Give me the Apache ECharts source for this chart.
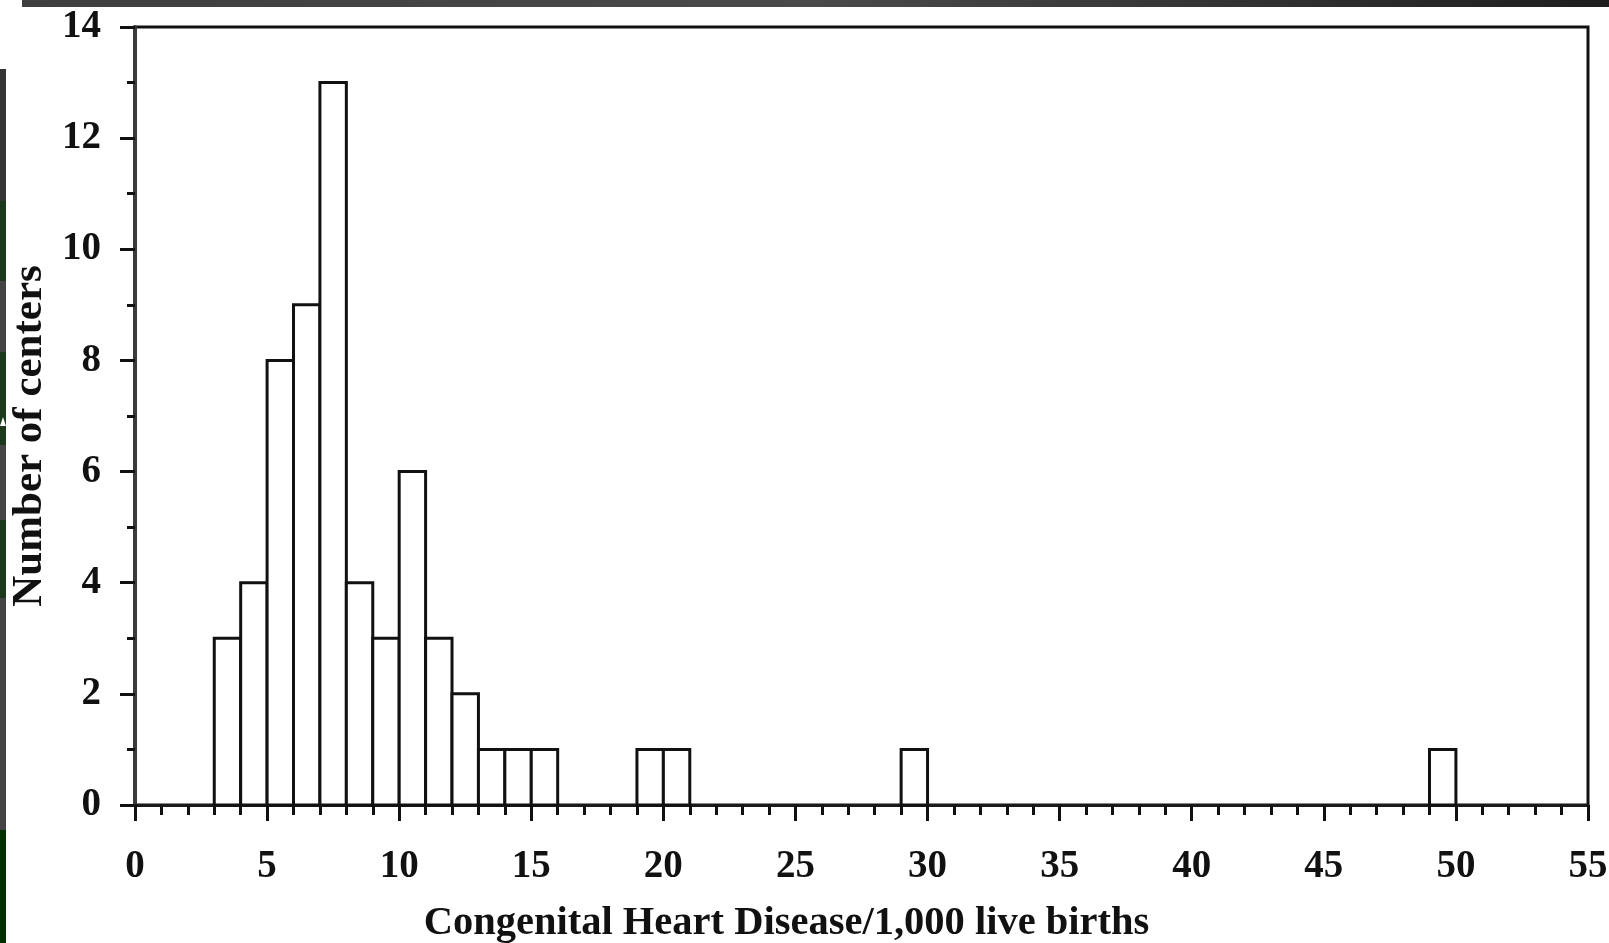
<!DOCTYPE html>
<html>
<head>
<meta charset="utf-8">
<script src="https://cdn.jsdelivr.net/npm/echarts@6/dist/echarts.min.js"></script>
<style>
html,body{margin:0;padding:0;background:#fff;}
#chart{width:1609px;height:943px;}
</style>
</head>
<body>
<div id="chart"></div>
<script>
// Histogram bins: [start, end) in cases per 1,000 live births
const binStarts = [3, 4, 5, 6, 7, 8, 9, 10, 11, 12, 13, 14, 15, 19, 20, 29, 49];
const binEnds   = [4, 5, 6, 7, 8, 9, 10, 11, 12, 13, 14, 15, 16, 20, 21, 30, 50];
const counts    = [3, 4, 8, 9, 13, 4, 3, 6, 3, 2, 1, 1, 1, 1, 1, 1, 1];
const xTicks = [0, 5, 10, 15, 20, 25, 30, 35, 40, 45, 50, 55];
const yTicks = [0, 2, 4, 6, 8, 10, 12, 14];
const xTitle = 'Congenital Heart Disease/1,000 live births';
const yTitle = 'Number of centers';

const data = binStarts.map((s, i) => [s, binEnds[i], counts[i]]);
const font = 'Liberation Serif';

const chart = echarts.init(document.getElementById('chart'));
chart.setOption({
  animation: false,
  backgroundColor: '#fff',
  grid: {
    left: 135, right: 21, top: 27, bottom: 138,
    outerBoundsMode: 'none',
    containLabel: false,
    show: true, borderColor: '#111', borderWidth: 3, backgroundColor: 'transparent'
  },
  xAxis: {
    type: 'value',
    min: xTicks[0], max: xTicks[xTicks.length - 1], interval: 5,
    name: xTitle,
    nameLocation: 'middle',
    nameGap: 98,
    nameTextStyle: {
      fontFamily: font, fontWeight: 'bold', fontSize: 40.5, color: '#111',
      padding: [0, 150, 0, 0]
    },
    axisLine: { show: true, onZero: false, lineStyle: { color: '#1a1a1a', width: 3 } },
    axisTick: { show: true, length: 16, lineStyle: { color: '#111', width: 3 } },
    minorTick: { show: true, splitNumber: 5, length: 10, lineStyle: { color: '#111', width: 3 } },
    splitLine: { show: false },
    axisLabel: {
      margin: 42, fontFamily: font, fontWeight: 'bold', fontSize: 39, color: '#111',
      formatter: v => xTicks.includes(v) ? String(v) : ''
    }
  },
  yAxis: {
    type: 'value',
    min: yTicks[0], max: yTicks[yTicks.length - 1], interval: 2,
    name: yTitle,
    nameLocation: 'middle',
    nameGap: 84,
    nameRotate: 90,
    nameTextStyle: {
      fontFamily: font, fontWeight: 'bold', fontSize: 43, color: '#111',
      padding: [0, 40, 0, 0]
    },
    axisLine: { show: true, onZero: false, lineStyle: { color: '#3a3a3a', width: 4 } },
    axisTick: { show: true, length: 15, lineStyle: { color: '#111', width: 3 } },
    minorTick: { show: true, splitNumber: 2, length: 8, lineStyle: { color: '#111', width: 3 } },
    splitLine: { show: false },
    axisLabel: {
      margin: 34, fontFamily: font, fontWeight: 'bold', fontSize: 39, color: '#111',
      formatter: v => yTicks.includes(v) ? String(v) : ''
    }
  },
  series: [{
    type: 'custom',
    data: data,
    encode: { x: [0, 1], y: 2 },
    renderItem: function (params, api) {
      const p0 = api.coord([api.value(0), api.value(2)]);
      const p1 = api.coord([api.value(1), 0]);
      return {
        type: 'rect',
        shape: { x: p0[0], y: p0[1], width: p1[0] - p0[0], height: p1[1] - p0[1] },
        style: { fill: '#fff', stroke: '#111', lineWidth: 3 }
      };
    },
    z: 3
  }],
  graphic: [
    {
      type: 'rect', left: 22, top: 0, z: 10,
      shape: { width: 1587, height: 7 },
      style: {
        fill: new echarts.graphic.LinearGradient(0, 0, 1, 0, [
          { offset: 0, color: '#3e3e3e' }, { offset: 0.5, color: '#4a4a4a' }, { offset: 1, color: '#1e1e1e' }
        ])
      }
    },
    { type: 'rect', left: 0, top: 69, z: 10, shape: { width: 6, height: 132 }, style: { fill: '#353535' } },
    { type: 'rect', left: 0, top: 201, z: 10, shape: { width: 6, height: 80 }, style: { fill: '#1b3a1b' } },
    { type: 'rect', left: 0, top: 281, z: 10, shape: { width: 6, height: 71 }, style: { fill: '#444' } },
    { type: 'rect', left: 0, top: 352, z: 10, shape: { width: 6, height: 93 }, style: { fill: '#1b3a1b' } },
    { type: 'polygon', z: 11, shape: { points: [[0, 426], [3, 417], [6, 426]] }, style: { fill: '#fff' } },
    { type: 'rect', left: 0, top: 445, z: 10, shape: { width: 6, height: 75 }, style: { fill: '#454545' } },
    { type: 'rect', left: 0, top: 520, z: 10, shape: { width: 6, height: 78 }, style: { fill: '#1b3a1b' } },
    { type: 'rect', left: 0, top: 598, z: 10, shape: { width: 6, height: 232 }, style: { fill: '#444' } },
    { type: 'rect', left: 0, top: 830, z: 10, shape: { width: 6, height: 113 }, style: { fill: '#003000' } }
  ]
});
</script>
</body>
</html>
